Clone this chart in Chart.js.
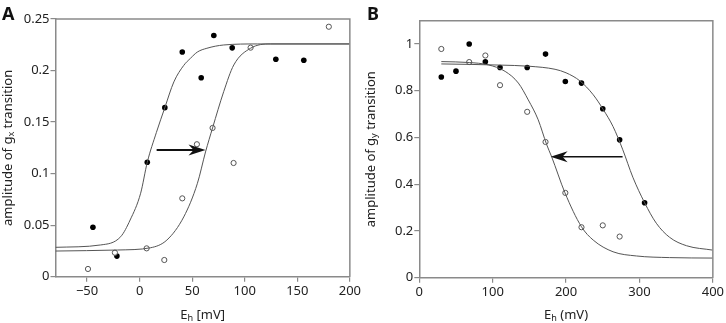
<!DOCTYPE html>
<html>
<head>
<meta charset="utf-8">
<script src="https://cdn.jsdelivr.net/npm/chart.js@4/dist/chart.umd.min.js"></script>
<style>
  html, body { margin: 0; padding: 0; background: #fff; }
  .row { display: flex; width: 726px; height: 323px; }
  canvas { display: block; }
</style>
</head>
<body>
<div class="row">
  <canvas id="panelA" width="363" height="323"></canvas>
  <canvas id="panelB" width="363" height="323"></canvas>
</div>
<script>
// panel A: g_x transition amplitude
const ticksAX = [-50, 0, 50, 100, 150, 200]
const ticksAY = [0, 0.05, 0.1, 0.15, 0.2, 0.25]
const filledAX = [-44.4, -21.6, 7.3, 24.0, 40.6, 58.6, 70.6, 88.1, 129.6, 156.2]
const filledAY = [0.048, 0.020, 0.111, 0.164, 0.218, 0.193, 0.234, 0.222, 0.211, 0.210]
const openAX = [-49.1, -23.5, 6.7, 23.5, 40.6, 54.5, 69.4, 89.4, 105.6, 180]
const openAY = [0.0075, 0.0233, 0.0275, 0.0162, 0.076, 0.1285, 0.1443, 0.1103, 0.2222, 0.2425]
const fitFilledAX = [-80, -37, -18, -9, 1, 7.3, 16, 24, 32.6, 42, 48.5, 55, 64, 80, 112, 200]
const fitFilledAY = [0.0285, 0.0308, 0.0388, 0.055, 0.081, 0.111, 0.140, 0.164, 0.189, 0.205, 0.212, 0.218, 0.2216, 0.2248, 0.2258, 0.2258]
const fitOpenAX = [-80, -21, 10.5, 26, 42, 55, 62.7, 69.4, 80, 89.6, 105.5, 124.5, 200]
const fitOpenAY = [0.0249, 0.0259, 0.0281, 0.0356, 0.058, 0.0906, 0.121, 0.1443, 0.1795, 0.2054, 0.2216, 0.2258, 0.2258]
const arrowAX = [16.2, 62.7]
const arrowAY = [0.1229, 0.1229]

// panel B: g_y transition amplitude
const ticksBX = [0, 100, 200, 300, 400]
const ticksBY = [0, 0.2, 0.4, 0.6, 0.8, 1]
const filledBX = [30, 50, 68, 90, 110, 147, 172, 199, 221, 250, 273, 307]
const filledBY = [0.859, 0.884, 1.0, 0.924, 0.900, 0.900, 0.957, 0.840, 0.833, 0.723, 0.590, 0.321]
const openBX = [30, 68, 90, 110, 147, 172, 199, 221, 250, 273]
const openBY = [0.979, 0.923, 0.951, 0.824, 0.710, 0.581, 0.363, 0.216, 0.224, 0.176]
const fitFilledBX = [30, 68, 110, 150, 185, 200, 219, 237, 251, 264, 277, 291, 307, 323, 341, 364, 400]
const fitFilledBY = [0.915, 0.913, 0.910, 0.905, 0.892, 0.877, 0.842, 0.783, 0.718, 0.647, 0.550, 0.430, 0.321, 0.233, 0.173, 0.137, 0.118]
const fitOpenBX = [30, 68, 94, 117, 135, 148.5, 162, 173.5, 180.3, 198.4, 221, 237, 264, 296, 341, 400]
const fitOpenBY = [0.925, 0.921, 0.911, 0.883, 0.833, 0.761, 0.676, 0.570, 0.518, 0.364, 0.218, 0.161, 0.111, 0.093, 0.086, 0.084]
const arrowBX = [277.0, 178.9]
const arrowBY = [0.518, 0.518]

const FONT = "'Noto Sans', 'Open Sans', sans-serif"
const TEXT = "#222"
const FRAME = "#8a8a8a"
const CURVE = "#555"

function pts(xs, ys) {
	return xs.map((x, i) => ({ x: x, y: ys[i] }))
}

function fmt(v) {
	return v < 0 ? "\u2212" + Math.abs(v) : String(v)
}

// draws "pre" + subscript + "post" centred at 0,0 of current transform
function subText(ctx, pre, sub, post, size) {
	ctx.font = size + "px " + FONT
	let w1 = ctx.measureText(pre).width
	let w3 = ctx.measureText(post).width
	ctx.font = (size * 0.7) + "px " + FONT
	let w2 = ctx.measureText(sub).width
	let x = -(w1 + w2 + w3) / 2
	ctx.textBaseline = "middle"
	ctx.textAlign = "left"
	ctx.fillStyle = TEXT
	ctx.font = size + "px " + FONT
	ctx.fillText(pre, x, 0)
	ctx.font = (size * 0.7) + "px " + FONT
	ctx.fillText(sub, x + w1, size * 0.28)
	ctx.font = size + "px " + FONT
	ctx.fillText(post, x + w1 + w2, 0)
}

function drawArrow(ctx, x0, y0, x1, y1, lw, len, half) {
	let dir = Math.sign(x1 - x0)
	ctx.save()
	ctx.strokeStyle = "#111"
	ctx.fillStyle = "#111"
	ctx.lineWidth = lw
	ctx.beginPath()
	ctx.moveTo(x0, y0)
	ctx.lineTo(x1 - dir * len * 0.6, y1)
	ctx.stroke()
	ctx.beginPath()
	ctx.moveTo(x1, y1)
	ctx.lineTo(x1 - dir * len, y1 - half)
	ctx.lineTo(x1 - dir * len * 0.7, y1)
	ctx.lineTo(x1 - dir * len, y1 + half)
	ctx.closePath()
	ctx.fill()
	ctx.restore()
}

function extras(cfg) {
	return {
		id: "extras",
		afterDatasetsDraw(chart) {
			let ctx = chart.ctx
			let a = chart.chartArea
			let sx = chart.scales.x
			let sy = chart.scales.y
			// frame top and right
			ctx.save()
			ctx.strokeStyle = FRAME
			ctx.lineWidth = 1.5
			ctx.beginPath()
			ctx.moveTo(a.left, a.top)
			ctx.lineTo(a.right, a.top)
			ctx.lineTo(a.right, a.bottom)
			ctx.stroke()
			ctx.restore()

			drawArrow(ctx,
				sx.getPixelForValue(cfg.arrowX[0]), sy.getPixelForValue(cfg.arrowY[0]),
				sx.getPixelForValue(cfg.arrowX[1]), sy.getPixelForValue(cfg.arrowY[1]),
				cfg.arrowWidth, 17, 5.5)

			// panel letter
			ctx.save()
			ctx.fillStyle = "#111"
			ctx.font = "bold 18px " + FONT
			ctx.textAlign = "left"
			ctx.textBaseline = "alphabetic"
			ctx.fillText(cfg.letter, cfg.letterX, 20)
			ctx.restore()

			// x title
			ctx.save()
			ctx.translate((a.left + a.right) / 2, 315)
			subText(ctx, "E", "h", cfg.xUnit, 13)
			ctx.restore()

			// y title
			ctx.save()
			ctx.translate(8, (a.top + a.bottom) / 2)
			ctx.rotate(-Math.PI / 2)
			subText(ctx, "amplitude of g", cfg.sub, " transition", 13)
			ctx.restore()
		}
	}
}

function makePanel(id, d) {
	new Chart(document.getElementById(id), {
		type: "scatter",
		data: {
			datasets: [
				{
					data: pts(d.fitFilledX, d.fitFilledY),
					showLine: true,
					cubicInterpolationMode: "monotone",
					borderColor: CURVE,
					borderWidth: 1,
					pointRadius: 0
				},
				{
					data: pts(d.fitOpenX, d.fitOpenY),
					showLine: true,
					cubicInterpolationMode: "monotone",
					borderColor: CURVE,
					borderWidth: 1,
					pointRadius: 0
				},
				{
					data: pts(d.openX, d.openY),
					pointRadius: 2.6,
					pointBackgroundColor: "#fff",
					pointBorderColor: "#555",
					pointBorderWidth: 1
				},
				{
					data: pts(d.filledX, d.filledY),
					pointRadius: 2.8,
					pointBackgroundColor: "#000",
					pointBorderColor: "#000",
					pointBorderWidth: 0
				}
			]
		},
		options: {
			responsive: false,
			animation: false,
			devicePixelRatio: 1,
			layout: { padding: { top: d.top, right: d.right, left: 0, bottom: 0 } },
			plugins: { legend: { display: false }, tooltip: { enabled: false } },
			scales: {
				x: {
					type: "linear",
					min: d.xMin,
					max: d.xMax,
					afterBuildTicks: s => { s.ticks = d.ticksX.map(v => ({ value: v })) },
					afterFit: s => { s.height = d.xHeight },
					ticks: { font: { family: FONT, size: 13 }, color: TEXT, padding: 2, maxRotation: 0, callback: v => fmt(v) },
					grid: { drawOnChartArea: false, drawTicks: true, tickLength: 5, color: FRAME, lineWidth: 1.2 },
					border: { display: true, color: FRAME, width: 1.5 }
				},
				y: {
					type: "linear",
					min: d.yMin,
					max: d.yMax,
					afterBuildTicks: s => { s.ticks = d.ticksY.map(v => ({ value: v })) },
					afterFit: s => { s.width = d.yWidth },
					ticks: { font: { family: FONT, size: 13 }, color: TEXT, padding: 1, callback: v => fmt(v) },
					grid: { drawOnChartArea: false, drawTicks: true, tickLength: 5, color: FRAME, lineWidth: 1.2 },
					border: { display: true, color: FRAME, width: 1.5 }
				}
			}
		},
		plugins: [extras(d)]
	})
}

makePanel("panelA", {
	filledX: filledAX, filledY: filledAY, openX: openAX, openY: openAY,
	fitFilledX: fitFilledAX, fitFilledY: fitFilledAY, fitOpenX: fitOpenAX, fitOpenY: fitOpenAY,
	arrowX: arrowAX, arrowY: arrowAY, arrowWidth: 2,
	ticksX: ticksAX, ticksY: ticksAY,
	xMin: -80, xMax: 200, yMin: 0, yMax: 0.25,
	top: 19, right: 13, xHeight: 46.3, yWidth: 55.5,
	letter: "A", letterX: 2, sub: "x", xUnit: " [mV]"
})

makePanel("panelB", {
	filledX: filledBX, filledY: filledBY, openX: openBX, openY: openBY,
	fitFilledX: fitFilledBX, fitFilledY: fitFilledBY, fitOpenX: fitOpenBX, fitOpenY: fitOpenBY,
	arrowX: arrowBX, arrowY: arrowBY, arrowWidth: 1.5,
	ticksX: ticksBX, ticksY: ticksBY,
	xMin: 0, xMax: 400, yMin: 0, yMax: 1.1,
	top: 20.7, right: 12.7, xHeight: 45.3, yWidth: 56.3,
	letter: "B", letterX: 4, sub: "y", xUnit: " (mV)"
})
</script>
</body>
</html>
